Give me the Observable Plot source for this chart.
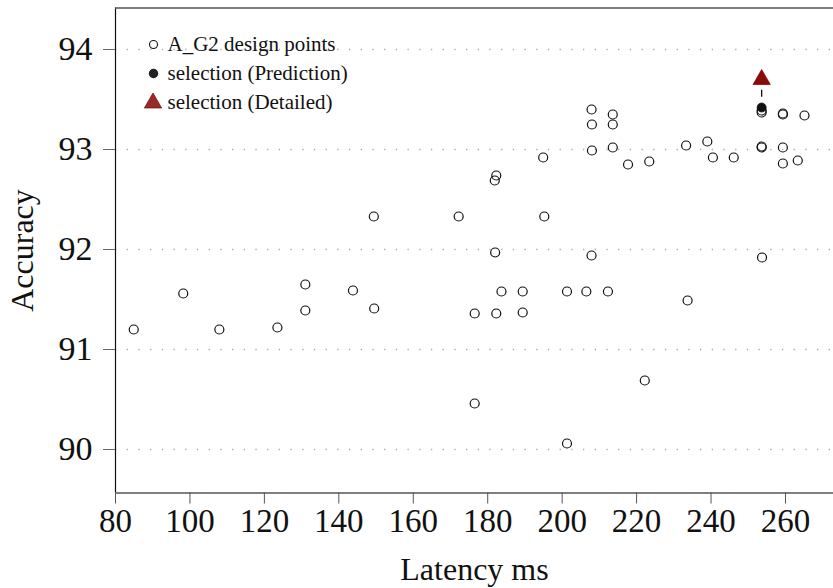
<!DOCTYPE html>
<html>
<head>
<meta charset="utf-8">
<script src="https://cdn.jsdelivr.net/npm/d3@7"></script>
<script src="https://cdn.jsdelivr.net/npm/@observablehq/plot@0.6"></script>
<style>
  html, body { margin: 0; padding: 0; background: #fff; }
  #chart svg { display: block; }
  #chart svg, #chart svg text { font-family: "Liberation Serif", "DejaVu Serif", serif !important; }
</style>
</head>
<body>
<div id="chart"></div>
<script>
// A_G2 design points: latency (ms) and accuracy
const latency = [
  84.9, 98.2, 107.9, 123.5, 131.0, 131.0, 143.8, 149.5, 149.4, 172.2,
  176.5, 176.5, 181.9, 182.3, 182.0, 182.3, 183.7, 189.4, 189.4, 194.9,
  195.2, 201.3, 201.3, 206.5, 207.9, 207.9, 208.0, 208.0, 212.3, 213.6,
  213.6, 213.6, 217.7, 223.4, 222.2, 233.3, 233.7, 239.0, 240.5, 246.1,
  253.6, 253.6, 253.6, 253.6, 253.7, 259.3, 259.3, 259.3, 259.3, 263.3,
  265.1
];
const accuracy = [
  91.20, 91.56, 91.20, 91.22, 91.65, 91.39, 91.59, 91.41, 92.33, 92.33,
  91.36, 90.46, 92.69, 92.74, 91.97, 91.36, 91.58, 91.58, 91.37, 92.92,
  92.33, 91.58, 90.06, 91.58, 91.94, 93.40, 93.25, 92.99, 91.58, 93.35,
  93.25, 93.02, 92.85, 92.88, 90.69, 93.04, 91.49, 93.08, 92.92, 92.92,
  93.37, 93.39, 93.02, 93.03, 91.92, 93.36, 93.35, 93.02, 92.86, 92.89,
  93.34
];

// Selected design: predicted vs. detailed evaluation
const selectionLatency = [253.6];
const selectionPredicted = [93.42];
const selectionDetailed = [93.70];

// Axis ticks
const xTicks = [80, 100, 120, 140, 160, 180, 200, 220, 240, 260];
const yTicks = [90, 91, 92, 93, 94];
const xDomain = [80, 272.9];
const yDomain = [89.565, 94.415];

// Legend entries
const legendLabels = ["A_G2 design points", "selection (Prediction)", "selection (Detailed)"];

const points = latency.map((x, i) => ({x, y: accuracy[i]}));
const selection = selectionLatency.map((x, i) => ({
  x, predicted: selectionPredicted[i], detailed: selectionDetailed[i]
}));

const red = "#8b0a0a";
const serif = "Liberation Serif";
const legendText = (label, dy) => Plot.text([label], {
  frameAnchor: "top-left", dx: 52, dy, textAnchor: "start", lineAnchor: "middle",
  fontSize: 21, fontFamily: serif, fill: "#111"
});

const chart = Plot.plot({
  width: 833,
  height: 588,
  marginLeft: 115,
  marginRight: 0,
  marginTop: 7.5,
  marginBottom: 95.5,
  style: {fontSize: "24px", color: "#111", background: "#fff"},
  x: {domain: xDomain, ticks: xTicks, label: null},
  y: {domain: yDomain, ticks: yTicks, label: null},
  marks: [
    // dotted horizontal grid
    Plot.ruleY(yTicks, {stroke: "#aaa", strokeWidth: 1.3, strokeDasharray: "1.3,10.4"}),
    // frame: left, bottom, top
    Plot.ruleX([xDomain[0]], {stroke: "#111", strokeWidth: 1.2}),
    Plot.ruleY([yDomain[0]], {stroke: "#555", strokeWidth: 1.6}),
    Plot.ruleY([yDomain[1]], {stroke: "#555", strokeWidth: 1.6}),
    // axes
    Plot.axisX({ticks: xTicks, tickFormat: "d", tickSize: 11, tickPadding: 5, stroke: "#555",
      fontSize: 33, fontFamily: serif, fontVariant: "normal", label: null}),
    Plot.axisY({ticks: yTicks, tickFormat: "d", tickSize: 12, tickPadding: 11, stroke: "#666",
      fontSize: 34, fontFamily: serif, fontVariant: "normal", label: null}),
    Plot.text(["Latency ms"], {frameAnchor: "bottom", dy: 77, lineAnchor: "middle", fontSize: 32, fontFamily: serif, fill: "#111"}),
    Plot.text(["Accuracy"], {frameAnchor: "left", dx: -93, rotate: -90, textAnchor: "middle", lineAnchor: "middle", fontSize: 32, fontFamily: serif, fill: "#111"}),
    // design points
    Plot.dot(points, {x: "x", y: "y", r: 4.5, stroke: "#111", strokeWidth: 1.2, fill: "none"}),
    // selection: prediction, link, detailed
    Plot.dot(selection, {x: "x", y: "predicted", r: 4.5, fill: "#111", stroke: "#111", strokeWidth: 0.8}),
    Plot.link(selection, {x1: "x", x2: "x", y1: "predicted", y2: "detailed",
      stroke: "#111", strokeWidth: 1.3, strokeDasharray: "7,7", strokeDashoffset: 3.3}),
    Plot.dot(selection, {x: "x", y: "detailed", symbol: "triangle", r: 6.4, fill: red, stroke: red, strokeWidth: 0.8}),
    // legend
    Plot.dot([0], {frameAnchor: "top-left", dx: 38, dy: 36.5, r: 4, stroke: "#111", strokeWidth: 1.1, fill: "none"}),
    Plot.dot([0], {frameAnchor: "top-left", dx: 38, dy: 65.5, r: 4, fill: "#222", stroke: "#222"}),
    Plot.dot([0], {frameAnchor: "top-left", dx: 37.5, dy: 95, symbol: "triangle", r: 6.4, fill: "#9a2a2a", stroke: "#7a1010", strokeWidth: 0.8}),
    legendText(legendLabels[0], 36.5),
    legendText(legendLabels[1], 65.5),
    legendText(legendLabels[2], 94.5)
  ]
});

document.getElementById("chart").appendChild(chart);
</script>
</body>
</html>
